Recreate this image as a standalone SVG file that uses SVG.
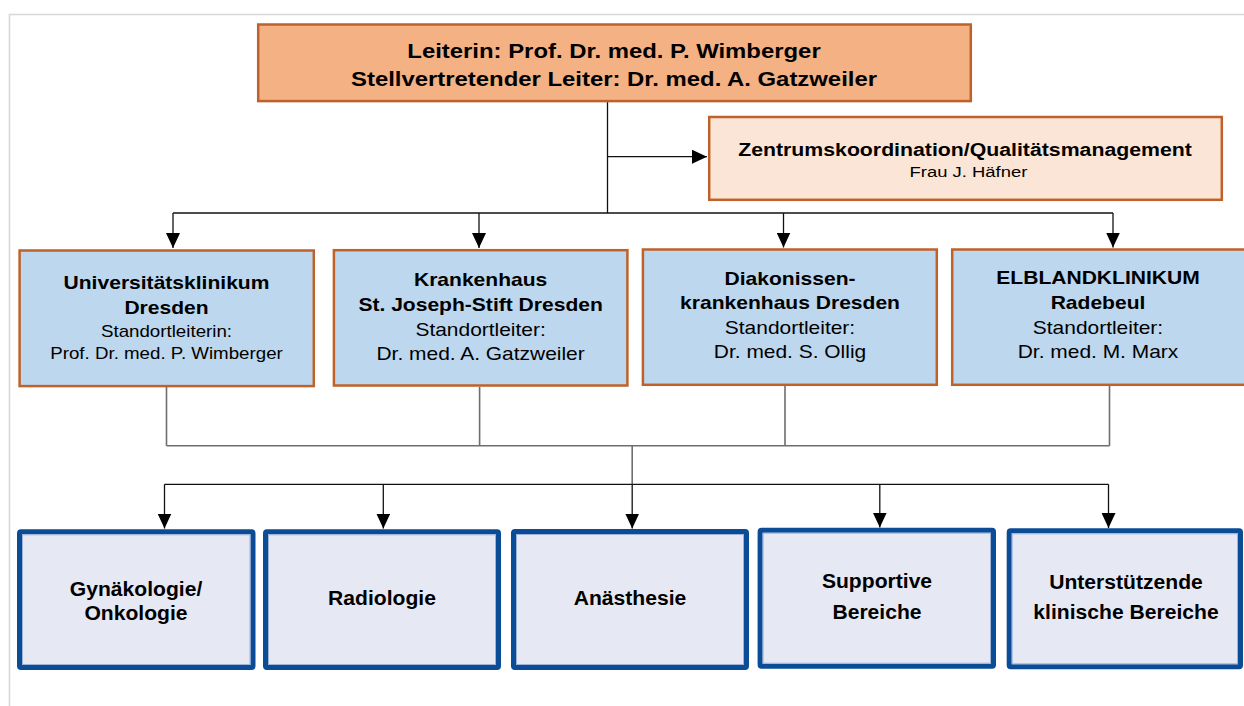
<svg xmlns="http://www.w3.org/2000/svg" width="1244" height="706" viewBox="0 0 1244 706">
<defs>
<style>
text{font-family:"Liberation Sans",Arial,sans-serif;fill:#000;text-anchor:middle}
.b{font-weight:bold}
.top{fill:#F4B183;stroke:#BE6229;stroke-width:2.5}
.coord{fill:#FBE5D6;stroke:#BE6229;stroke-width:2.5}
.site{fill:#BDD7EE;stroke:#BE6229;stroke-width:2.5}
.dept{fill:#E6E8F4;stroke:#0B4C96;stroke-width:5}
.inner{fill:none;stroke:#9DB3DA;stroke-width:1}
.ln{fill:none;stroke:#111;stroke-width:1.3}
.gl{fill:none;stroke:#6E6E6E;stroke-width:1.6}
</style>
<marker id="ah" markerUnits="userSpaceOnUse" markerWidth="15" markerHeight="14" refX="15" refY="7" orient="auto">
<path d="M0,0 L15,7 L0,14 z" fill="#000"/>
</marker>
</defs>
<rect width="1244" height="706" fill="#fff"/>
<path d="M9.5,706 V14.5 H1244" fill="none" stroke="#D8D8D8" stroke-width="1.6"/>

<g id="connectors">
<path class="ln" d="M607.5,102 V213"/>
<path class="ln" d="M607.5,156.7 H707" marker-end="url(#ah)"/>
<path class="ln" d="M173,213 H1113"/>
<path class="ln" d="M173,213 V248" marker-end="url(#ah)"/>
<path class="ln" d="M479,213 V248" marker-end="url(#ah)"/>
<path class="ln" d="M783.5,213 V247.5" marker-end="url(#ah)"/>
<path class="ln" d="M1113,213 V247.5" marker-end="url(#ah)"/>
<path class="gl" d="M166.5,387 V445.7 M479.6,387 V445.7 M785,386 V445.7 M1109.5,386 V445.7 M166.5,445.7 H1109.5 M632.2,445.7 V484.3"/>
<path class="ln" d="M164.5,484.3 H1108.5"/>
<path class="ln" d="M164.5,484.3 V528.5" marker-end="url(#ah)"/>
<path class="ln" d="M383.3,484.3 V528.5" marker-end="url(#ah)"/>
<path class="ln" d="M632.2,484.3 V528.5" marker-end="url(#ah)"/>
<path class="ln" d="M879.8,484.3 V527.5" marker-end="url(#ah)"/>
<path class="ln" d="M1108.5,484.3 V528" marker-end="url(#ah)"/>
</g>

<g id="leitung">
<rect class="top" x="258.2" y="24.5" width="712.6" height="76.6"/>
<g transform="translate(614 0) scale(1.177 1)">
<text class="b" x="0" y="57.7" font-size="20.3">Leiterin: Prof. Dr. med. P. Wimberger</text>
<text class="b" x="0" y="86" font-size="20.3">Stellvertretender Leiter: Dr. med. A. Gatzweiler</text>
</g>
</g>

<g id="koordination">
<rect class="coord" x="709.2" y="117" width="512.6" height="82.8"/>
<g transform="translate(965 0) scale(1.15 1)">
<text class="b" x="0" y="156" font-size="18.5">Zentrumskoordination/Qualitätsmanagement</text>
</g>
<g transform="translate(968.4 0) scale(1.19 1)">
<text x="0" y="176.7" font-size="15.5">Frau J. Häfner</text>
</g>
</g>

<g id="site-ukd">
<rect class="site" x="19.6" y="250.5" width="294.2" height="135.6"/>
<g transform="translate(166.5 0) scale(1.17 1)">
<text class="b" x="0" y="289.3" font-size="18">Universitätsklinikum</text>
<text class="b" x="0" y="314" font-size="18">Dresden</text>
<text x="0" y="337.3" font-size="16">Standortleiterin:</text>
<text x="0" y="359" font-size="16">Prof. Dr. med. P. Wimberger</text>
</g>
</g>

<g id="site-sjs">
<rect class="site" x="333.9" y="250.2" width="293.5" height="135.3"/>
<g transform="translate(480.6 0) scale(1.17 1)">
<text class="b" x="0" y="286" font-size="18">Krankenhaus</text>
<text class="b" x="0" y="310.7" font-size="18">St. Joseph-Stift Dresden</text>
<text x="0" y="335.7" font-size="17.9">Standortleiter:</text>
<text x="0" y="360" font-size="17.9">Dr. med. A. Gatzweiler</text>
</g>
</g>

<g id="site-diako">
<rect class="site" x="642.9" y="249.5" width="293.9" height="135.3"/>
<g transform="translate(790 0) scale(1.17 1)">
<text class="b" x="0" y="285" font-size="18">Diakonissen-</text>
<text class="b" x="0" y="309.3" font-size="18">krankenhaus Dresden</text>
<text x="0" y="334" font-size="17.9">Standortleiter:</text>
<text x="0" y="358.3" font-size="17.9">Dr. med. S. Ollig</text>
</g>
</g>

<g id="site-elbland">
<rect class="site" x="952.2" y="249.5" width="300" height="135.3"/>
<g transform="translate(1098 0) scale(1.17 1)">
<text class="b" x="0" y="284.5" font-size="18">ELBLANDKLINIKUM</text>
<text class="b" x="0" y="309" font-size="18">Radebeul</text>
<text x="0" y="334" font-size="17.9">Standortleiter:</text>
<text x="0" y="358" font-size="17.9">Dr. med. M. Marx</text>
</g>
</g>

<g id="dept-gyn">
<rect class="dept" x="19.5" y="531.8" width="233.5" height="135.7" rx="1.5"/>
<rect class="inner" x="22.5" y="534.8" width="227.5" height="129.7"/>
<g transform="translate(136 0) scale(1.03 1)">
<text class="b" x="0" y="595.7" font-size="20.5">Gynäkologie/</text>
<text class="b" x="0" y="620.5" font-size="20.5">Onkologie</text>
</g>
</g>

<g id="dept-rad">
<rect class="dept" x="265.5" y="531.8" width="233" height="135.7" rx="1.5"/>
<rect class="inner" x="268.5" y="534.8" width="227" height="129.7"/>
<g transform="translate(382 0) scale(1.03 1)">
<text class="b" x="0" y="604.7" font-size="20.5">Radiologie</text>
</g>
</g>

<g id="dept-anae">
<rect class="dept" x="513.5" y="531.5" width="233" height="136" rx="1.5"/>
<rect class="inner" x="516.5" y="534.5" width="227" height="130"/>
<g transform="translate(630 0) scale(1.03 1)">
<text class="b" x="0" y="604.7" font-size="20.5">Anästhesie</text>
</g>
</g>

<g id="dept-supp">
<rect class="dept" x="760.1" y="530.2" width="233.4" height="136" rx="1.5"/>
<rect class="inner" x="763.1" y="533.2" width="227.4" height="130"/>
<g transform="translate(877 0) scale(1.03 1)">
<text class="b" x="0" y="588.3" font-size="20.5">Supportive</text>
<text class="b" x="0" y="619" font-size="20.5">Bereiche</text>
</g>
</g>

<g id="dept-unterst">
<rect class="dept" x="1009.2" y="530.8" width="231.3" height="136" rx="1.5"/>
<rect class="inner" x="1012.2" y="533.8" width="225.3" height="130"/>
<g transform="translate(1126 0) scale(1.03 1)">
<text class="b" x="0" y="588.7" font-size="20.5">Unterstützende</text>
<text class="b" x="0" y="619" font-size="20.5">klinische Bereiche</text>
</g>
</g>
</svg>
